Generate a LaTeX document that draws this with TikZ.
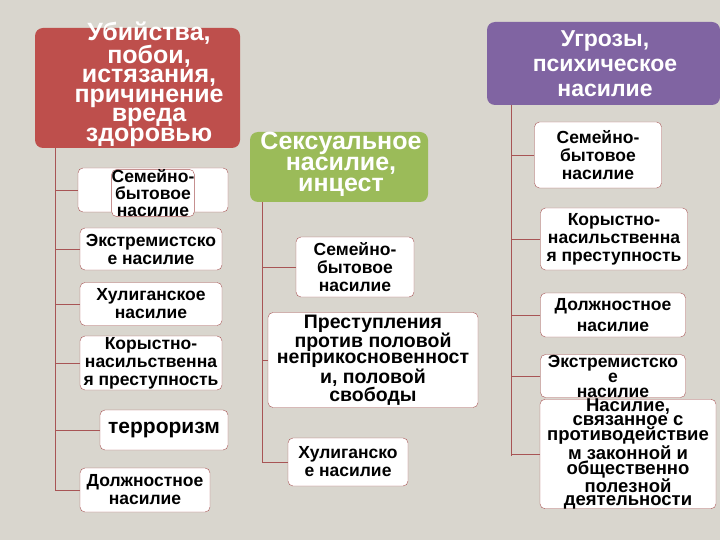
\documentclass[tikz,border=0pt]{standalone}
\usepackage{fontspec}
\setmainfont{Liberation Sans}
\definecolor{bg}{HTML}{D9D6CE}
\definecolor{redb}{HTML}{BE4F4C}
\definecolor{greenb}{HTML}{9BBB59}
\definecolor{purb}{HTML}{8064A2}
\definecolor{lnc}{HTML}{A85555}
\begin{document}
\begin{tikzpicture}[x=1pt,y=-1pt,
  head/.style={text=white,align=center,inner sep=0pt},
  kid/.style={draw=lnc,fill=white,rounded corners=5pt,font=\bfseries\fontsize{17.5}{18}\selectfont,align=center,inner sep=0pt},
  conn/.style={draw=lnc,line width=0.8pt}]
\fill[bg] (0,0) rectangle (720,540);
\useasboundingbox (0,0) rectangle (720,540);
% heads
\path[fill=redb,rounded corners=8pt] (35,28) rectangle (240,148);
\node[head,font=\bfseries\fontsize{25}{19.5}\selectfont] (h1) at (149,84) {Убийства,\\побои,\\истязания,\\причинение\\вреда\\здоровью};
\path[fill=greenb,rounded corners=8pt] (250,132) rectangle (428,202);
\node[head,font=\bfseries\fontsize{25}{21}\selectfont] (h2) at (341,164) {Сексуальное\\насилие,\\инцест};
\path[fill=purb,rounded corners=8pt] (487,22) rectangle (720,105);
\node[head,font=\bfseries\fontsize{23}{25}\selectfont] (h3) at (605,64) {Угрозы,\\психическое\\насилие};
\coordinate (t1) at (55,148); \coordinate (e1) at (55,490);
\coordinate (t2) at (262,202); \coordinate (e2) at (262,462);
\coordinate (t3) at (511,105); \coordinate (e3) at (511,456);
\draw[conn] (t1) -- (e1); \draw[conn] (t2) -- (e2); \draw[conn] (t3) -- (e3);
% left children
\node[kid,minimum width=150,minimum height=44] (a1) at (153,190) {};
\node[kid,font=\bfseries\fontsize{17.5}{17}\selectfont] at (153,193) {Семейно-\\бытовое\\насилие};
\node[kid,minimum width=142,minimum height=42] (a2) at (151,249) {Экстремистско\\е насилие};
\node[kid,minimum width=142,minimum height=43] (a3) at (151,304) {Хулиганское\\насилие};
\node[kid,minimum width=142,minimum height=54] (a4) at (151,363) {Корыстно-\\насильственна\\я преступность};
\node[kid,minimum width=128,minimum height=40,font=\bfseries\fontsize{21}{21}\selectfont] (a5) at (164,430) {терроризм};
\node[kid,minimum width=130,minimum height=44] (a6) at (145,490) {Должностное\\насилие};
\foreach \n in {a1,a2,a3,a4,a5,a6} \draw[conn] (\n.west) -- (\n.west -| t1);
% middle children
\node[kid,minimum width=118,minimum height=60] (b1) at (355,267) {Семейно-\\бытовое\\насилие};
\node[kid,minimum width=210,minimum height=95,font=\bfseries\fontsize{19.5}{16}\selectfont] (b2) at (373,360) {Преступления\\против половой\\неприкосновенност\\и, половой\\свободы};
\node[kid,minimum width=120,minimum height=48] (b3) at (348,462) {Хулиганско\\е насилие};
\foreach \n in {b1,b2,b3} \draw[conn] (\n.west) -- (\n.west -| t2);
% right children
\node[kid,minimum width=127,minimum height=66] (c1) at (598,155) {Семейно-\\бытовое\\насилие};
\node[kid,minimum width=147,minimum height=62] (c2) at (614,239) {Корыстно-\\насильственна\\я преступность};
\node[kid,minimum width=145,minimum height=44,font=\bfseries\fontsize{17.5}{21}\selectfont] (c3) at (613,315) {Должностное\\насилие};
\node[kid,minimum width=145,minimum height=43,font=\bfseries\fontsize{17.5}{15}\selectfont] (c4) at (613,376) {Экстремистско\\е\\насилие};
\node[kid,minimum width=176,minimum height=88,font=\bfseries\fontsize{18.5}{12.5}\selectfont] (c5) at (628,454) {Насилие,\\связанное с\\противодействие\\м законной и\\общественно\\полезной\\деятельности};
\foreach \n in {c1,c2,c3,c4,c5} \draw[conn] (\n.west) -- (\n.west -| t3);
\end{tikzpicture}
\end{document}
